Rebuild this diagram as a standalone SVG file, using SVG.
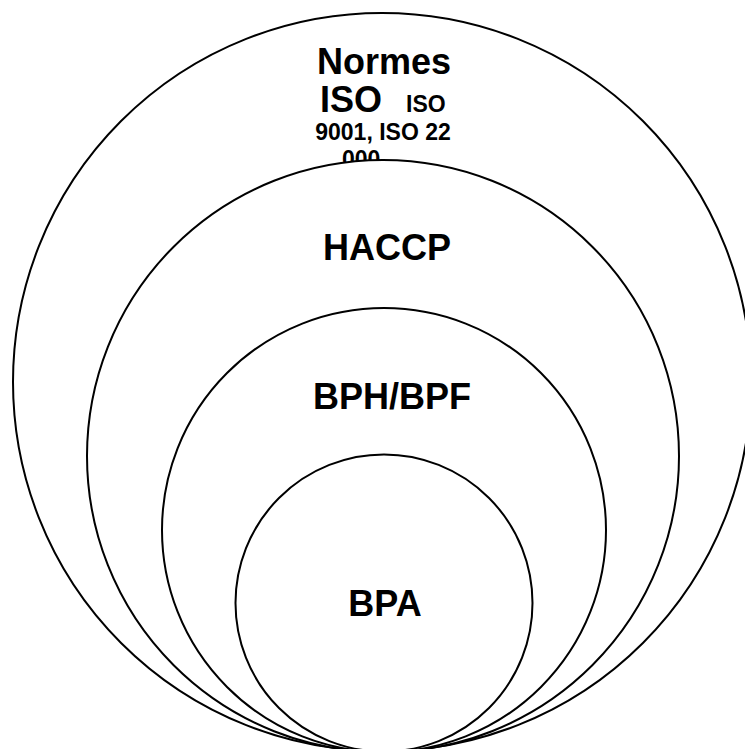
<svg xmlns="http://www.w3.org/2000/svg" width="745" height="749" viewBox="0 0 745 749">
  <style>
    .ring { fill: #ffffff; stroke: #000000; stroke-width: 2; }
    .label { font-family: "Liberation Sans", Arial, sans-serif; font-weight: bold; fill: #000000; }
    .big { font-size: 36px; }
    .small { font-size: 23px; }
  </style>
  <rect x="0" y="0" width="745" height="749" fill="#ffffff"/>

  <!-- Outermost level: ISO standards -->
  <g id="iso">
    <circle class="ring" cx="382" cy="382" r="369"/>
    <text class="label big" x="384" y="74" text-anchor="middle">Normes</text>
    <text class="label big" x="320" y="112">ISO</text>
    <text class="label small" x="406" y="112">ISO</text>
    <text class="label small" x="383" y="140" text-anchor="middle">9001, ISO 22</text>
    <text class="label small" x="342" y="167">000, ...</text>
  </g>

  <!-- HACCP -->
  <g id="haccp">
    <circle class="ring" cx="383" cy="456" r="296"/>
    <text class="label big" x="387" y="260" text-anchor="middle">HACCP</text>
  </g>

  <!-- Good hygiene / manufacturing practices -->
  <g id="bph-bpf">
    <circle class="ring" cx="384" cy="530" r="222"/>
    <text class="label big" x="392" y="409" text-anchor="middle">BPH/BPF</text>
  </g>

  <!-- Good agricultural practices -->
  <g id="bpa">
    <circle class="ring" cx="384" cy="603" r="148.5"/>
    <text class="label big" x="385" y="616" text-anchor="middle">BPA</text>
  </g>

  <g id="connectors"/>
</svg>
